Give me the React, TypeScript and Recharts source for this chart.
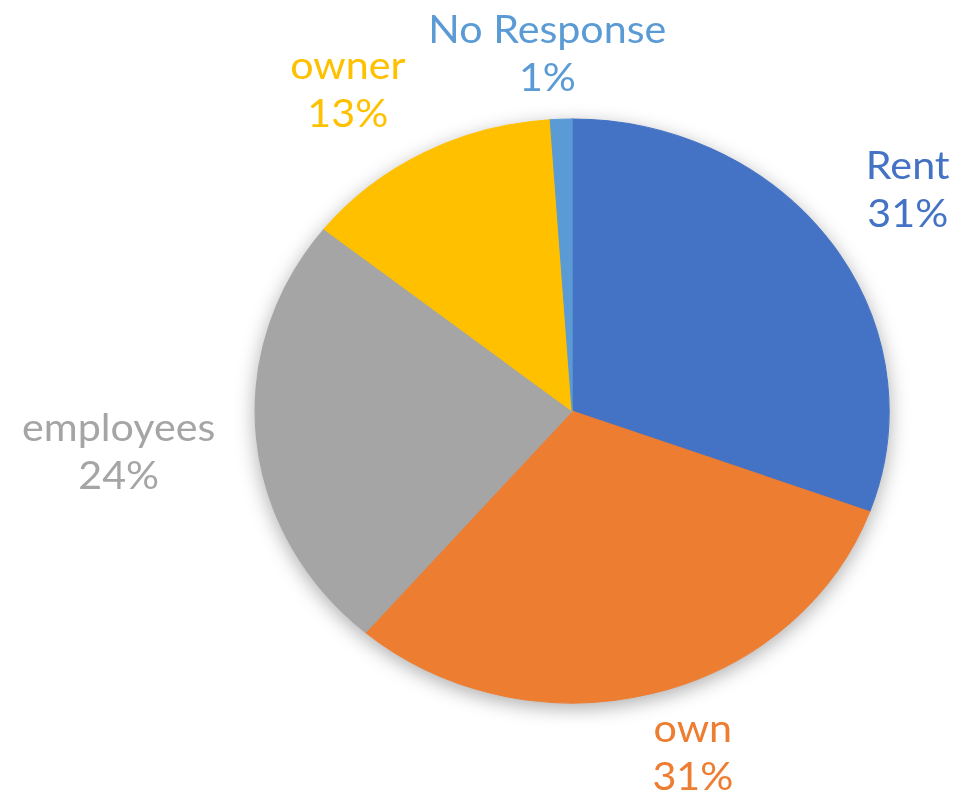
import React from "react";
import { Cell, Pie, PieChart } from "recharts";

const categories = ["Rent", "own", "employees", "owner", "No Response"];
const shares = [30.6, 30.7, 24.4, 13.2, 1.1];
const sliceColors = ["#4472C4", "#ED7D31", "#A5A5A5", "#FFC000", "#5B9BD5"];

const data = categories.map((name, i) => ({ name, value: shares[i] }));

// the source picture is a little wider than tall, so the whole chart is stretched in x
const STRETCH_X = 1.0856;
const WIDTH = 885;
const HEIGHT = 798;
const CX = 527;
const CY = 411;
const RADIUS = 292;

const FONT_SIZE = 38;
const LINE_GAP = 48;
const GAP_X = 38;
const GAP_Y = 28;
const FONT = "Lato, 'Noto Sans', sans-serif";
const RAD = Math.PI / 180;

let ctx: CanvasRenderingContext2D | null = null;
function textWidth(s: string) {
  if (!ctx) ctx = document.createElement("canvas").getContext("2d");
  if (!ctx) return s.length * FONT_SIZE * 0.53;
  ctx.font = `${FONT_SIZE}px ${FONT}`;
  return ctx.measureText(s).width;
}

const clamp = (v: number) => Math.max(-1, Math.min(1, v));

function renderLabel(props: any) {
  const { cx, cy, midAngle, outerRadius, percent, name, index } = props;
  const cos = Math.cos(midAngle * RAD);
  const sin = Math.sin(midAngle * RAD);
  const pct = `${Math.round(percent * 100)}%`;
  const w = Math.max(textWidth(name), textWidth(pct));
  const h = LINE_GAP + FONT_SIZE * 0.72;
  // push the label box away from the pie, like an outside-end label
  const x = cx + (outerRadius + GAP_X) * cos + (w / 2) * clamp(cos * 3);
  let y = cy - (outerRadius + GAP_Y) * sin - (h / 2) * clamp(sin * 3);
  // keep the second line inside the chart
  const lastBaseline = y + LINE_GAP / 2 + FONT_SIZE * 0.35;
  if (lastBaseline > HEIGHT - 8) y -= lastBaseline - (HEIGHT - 8);
  const color = sliceColors[index % sliceColors.length];
  return (
    <text
      x={x}
      y={y}
      fill={color}
      textAnchor="middle"
      fontSize={FONT_SIZE}
      fontFamily={FONT}
    >
      <tspan x={x} dy={-LINE_GAP / 2 + FONT_SIZE * 0.35}>
        {name}
      </tspan>
      <tspan x={x} dy={LINE_GAP}>
        {pct}
      </tspan>
    </text>
  );
}

export default function App() {
  return (
    <div
      style={{
        position: "absolute",
        left: 0,
        top: 0,
        width: WIDTH,
        height: HEIGHT,
        transform: `scaleX(${STRETCH_X})`,
        transformOrigin: "0 0",
        background: "#fff",
      }}
    >
      <PieChart width={WIDTH} height={HEIGHT} margin={{ top: 0, right: 0, bottom: 0, left: 0 }}>
        {/* soft shadow under the pie */}
        <Pie
          data={data}
          dataKey="value"
          nameKey="name"
          cx={CX}
          cy={CY + 5}
          outerRadius={RADIUS + 1}
          startAngle={90}
          endAngle={-270}
          label={false}
          labelLine={false}
          isAnimationActive={false}
        >
          {data.map((d) => (
            <Cell
              key={`shadow-${d.name}`}
              fill="#000"
              fillOpacity={0.3}
              stroke="none"
              style={{ filter: "blur(9px)" }}
            />
          ))}
        </Pie>
        <Pie
          data={data}
          dataKey="value"
          nameKey="name"
          cx={CX}
          cy={CY}
          outerRadius={RADIUS}
          startAngle={90}
          endAngle={-270}
          label={renderLabel}
          labelLine={false}
          isAnimationActive={false}
        >
          {data.map((d, i) => (
            <Cell key={d.name} fill={sliceColors[i]} stroke={sliceColors[i]} strokeWidth={1} />
          ))}
        </Pie>
      </PieChart>
    </div>
  );
}
